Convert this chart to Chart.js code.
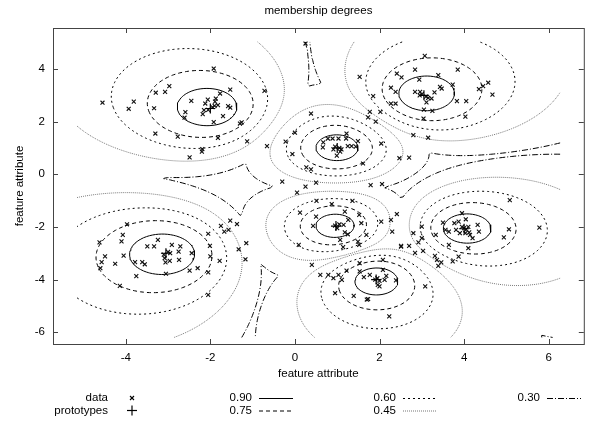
<!DOCTYPE html>
<html>
<head>
<meta charset="utf-8">
<script src="https://cdn.jsdelivr.net/npm/chart.js"></script>
<style>
  html, body { margin: 0; padding: 0; background: #fff; }
  #wrap { width: 590px; height: 422px; }
</style>
</head>
<body>
<div id="wrap"><canvas id="membershipChart"></canvas></div>
<script>
// prototypes (cluster centres)
var protoPoints = [[-2.0, 2.5], [3.05, 3.0], [1.0, 1.0], [-3.05, -3.0], [0.97, -1.97], [1.92, -4.0], [4.0, -2.07]];

// data points, grouped by cluster
var dataPoints = [
  // top left
  [-1.92,4.02],[-2.97,3.35],[-3.29,3.10],[-3.07,3.13],[-1.53,3.22],[-1.77,3.07],[-2.45,2.79],[-1.87,2.88],[-2.06,2.84],[-1.89,2.76],
  [-3.81,2.76],[-3.93,2.49],[-3.33,2.51],[-2.12,2.69],[-1.82,2.63],[-1.58,2.59],[-1.53,2.53],[-2.59,2.36],[-2.61,2.15],[-2.18,2.29],
  [-2.15,2.44],[-1.70,2.21],[-1.92,1.98],[-1.26,1.97],[-1.30,1.93],[-3.30,1.55],[-2.77,1.43],[-1.82,1.38],[-1.13,1.25],[-2.19,0.96],
  [-2.20,0.86],[-2.49,0.64],[-1.95,2.55],[-2.05,2.45],[-1.90,2.60],[-4.55,2.72],
  // top right
  [3.07,4.50],[1.53,3.70],[2.41,3.83],[2.52,3.68],[2.84,3.98],[3.85,3.98],[3.39,3.77],[2.94,3.60],[2.27,3.29],[2.38,3.13],
  [2.84,3.13],[2.96,3.13],[3.30,3.11],[3.43,3.32],[3.47,3.26],[3.73,3.41],[4.57,3.48],[4.45,3.35],[4.35,3.24],[4.67,3.03],
  [1.85,2.97],[2.27,2.69],[2.38,2.69],[3.11,2.73],[3.23,2.88],[3.83,2.78],[4.05,2.78],[3.05,2.46],[3.25,2.41],[1.77,2.37],
  [2.02,2.37],[1.73,2.16],[1.91,2.00],[3.04,2.12],[4.03,2.19],[2.80,1.49],[3.15,1.39],[3.00,3.05],[3.10,2.95],[2.95,3.00],[3.15,2.90],
  // centre top
  [0.38,2.31],[0.00,1.58],[-0.22,1.24],[1.22,1.55],[0.78,1.36],[0.89,1.36],[1.03,1.36],[1.21,1.36],[0.67,1.21],[1.49,1.26],
  [1.25,1.07],[1.34,1.07],[1.44,1.05],[0.66,1.02],[0.91,0.95],[1.07,0.86],[0.99,0.71],[-0.06,0.77],[1.61,0.41],[0.27,0.26],
  [0.38,0.19],[-0.30,-0.28],[0.25,-0.47],[0.50,-0.32],[0.05,-0.70],[1.79,-0.41],[2.06,-0.37],[-0.66,1.07],[1.05,1.00],[0.95,1.05],
  [1.10,0.95],[2.04,1.17],[2.47,0.61],[2.70,0.63],[0.25,4.97],[-0.72,3.17],
  // bottom left
  [-3.97,-1.90],[-4.07,-2.30],[-4.10,-2.55],[-4.62,-2.59],[-4.49,-3.12],[-4.57,-3.34],[-4.60,-3.57],[-4.25,-3.40],[-4.05,-3.09],[-4.14,-4.24],
  [-3.24,-2.49],[-3.49,-2.74],[-3.33,-2.74],[-2.91,-2.68],[-2.71,-2.74],[-2.75,-2.94],[-2.44,-3.00],[-3.78,-3.34],[-3.61,-3.34],[-3.55,-3.42],
  [-3.06,-3.35],[-2.96,-3.29],[-2.74,-3.25],[-3.08,-3.19],[-3.75,-3.87],[-3.05,-3.78],[-2.49,-3.66],[-2.30,-3.57],[-2.05,-3.73],[-2.01,-2.72],
  [-2.00,-3.12],[-1.78,-3.29],[-2.05,-2.26],[-2.05,-4.58],[-1.75,-1.96],[-1.67,-2.18],[-1.57,-2.11],[-1.53,-1.76],[-1.37,-1.89],[-1.33,-2.85],
  [-1.15,-2.62],[-1.17,-3.23],[-3.00,-2.95],[-2.95,-3.00],[-3.10,-3.05],
  // centre
  [0.51,-1.01],[0.87,-1.13],[1.36,-1.01],[0.12,-1.46],[0.50,-1.61],[1.18,-1.42],[1.52,-1.54],[0.43,-1.96],[1.15,-1.92],[1.26,-1.73],
  [1.57,-1.86],[2.04,-1.80],[2.27,-1.73],[2.30,-2.18],[1.18,-2.21],[1.25,-2.28],[1.07,-2.49],[1.69,-2.30],[1.49,-2.56],[1.52,-2.68],
  [0.09,-2.68],[1.14,-2.77],[2.51,-2.75],[0.95,-1.95],[1.00,-2.05],[1.05,-1.90],
  // bottom centre
  [0.40,-3.44],[0.60,-3.82],[0.79,-3.82],[1.03,-3.82],[0.91,-3.95],[1.11,-4.01],[1.22,-3.66],[1.53,-3.69],[1.63,-3.91],[1.77,-3.82],
  [2.08,-3.63],[2.16,-3.86],[2.12,-4.01],[1.96,-4.20],[2.00,-4.26],[0.95,-4.52],[1.39,-4.62],[1.73,-4.74],[1.70,-4.76],[2.23,-5.40],
  [1.53,-3.38],[2.08,-3.25],[1.95,-3.95],[2.00,-4.05],[1.90,-4.00],[2.39,-4.03],[3.08,-4.26],
  // right
  [5.08,-0.98],[5.78,-2.03],[5.06,-2.09],[4.94,-2.40],[2.41,-1.51],[3.95,-1.48],[4.04,-1.71],[3.50,-1.84],[3.77,-1.86],[3.87,-1.80],
  [4.32,-1.92],[3.00,-1.99],[3.56,-2.11],[3.64,-2.18],[3.81,-2.11],[3.90,-2.24],[4.03,-2.24],[4.12,-2.21],[4.14,-2.30],[4.35,-2.18],
  [4.20,-2.43],[3.33,-2.30],[2.80,-2.24],[3.00,-2.43],[2.92,-2.59],[3.64,-2.68],[4.10,-2.81],[3.87,-3.13],[3.73,-3.31],[2.70,-2.72],
  [2.51,-2.72],[2.84,-2.99],[3.03,-2.91],[3.31,-3.10],[3.36,-3.25],[3.46,-3.35],[3.39,-3.48],[4.00,-2.05],[4.05,-2.10],[3.95,-2.00],[4.10,-2.00]
];

// contour levels of the membership degree and their line styles
var levels = [0.90, 0.75, 0.60, 0.45, 0.30];
var levelDash = [[], [4, 3], [2, 3], [1, 1], [6, 2, 1, 2]];
var levelColor = ['#000', '#000', '#000', '#777', '#000'];

var fuzzifier = 2;
// area over which the membership grid was sampled
var gridX = [-5.15, 6.27];
var gridY = [-6.2, 5.03];

var xTicks = [-4, -2, 0, 2, 4, 6];
var yTicks = [-6, -4, -2, 0, 2, 4];

var FONT = '"Liberation Sans", Arial, sans-serif';

// fuzzy c-means membership, highest over all prototypes
function maxMembership(x, y) {
  var inv = [], sum = 0;
  protoPoints.forEach(function (p) {
    var d2 = (x - p[0]) * (x - p[0]) + (y - p[1]) * (y - p[1]);
    var w = Math.pow(Math.max(d2, 1e-12), -1 / (fuzzifier - 1));
    inv.push(w); sum += w;
  });
  return Math.max.apply(null, inv) / sum;
}

var N = 160;
var gxs = [], gys = [], grid = [];
for (var i = 0; i <= N; i++) {
  gxs.push(gridX[0] + (gridX[1] - gridX[0]) * i / N);
  gys.push(gridY[0] + (gridY[1] - gridY[0]) * i / N);
}
for (var i = 0; i <= N; i++) {
  grid.push([]);
  for (var j = 0; j <= N; j++) grid[i].push(maxMembership(gxs[i], gys[j]));
}

// marching squares, segments chained into polylines
function isoLines(level) {
  var pts = {}, adj = {};
  function cut(key, xa, ya, va, xb, yb, vb) {
    if (!pts[key]) {
      var t = (level - va) / (vb - va);
      pts[key] = { x: xa + t * (xb - xa), y: ya + t * (yb - ya) };
    }
    return key;
  }
  function link(a, b) {
    (adj[a] = adj[a] || []).push(b);
    (adj[b] = adj[b] || []).push(a);
  }
  for (var i = 0; i < N; i++) {
    for (var j = 0; j < N; j++) {
      var v0 = grid[i][j], v1 = grid[i + 1][j], v2 = grid[i + 1][j + 1], v3 = grid[i][j + 1];
      var b = (v0 > level) !== (v1 > level) ? cut('h' + i + '_' + j, gxs[i], gys[j], v0, gxs[i + 1], gys[j], v1) : null;
      var r = (v1 > level) !== (v2 > level) ? cut('v' + (i + 1) + '_' + j, gxs[i + 1], gys[j], v1, gxs[i + 1], gys[j + 1], v2) : null;
      var t = (v3 > level) !== (v2 > level) ? cut('h' + i + '_' + (j + 1), gxs[i], gys[j + 1], v3, gxs[i + 1], gys[j + 1], v2) : null;
      var l = (v0 > level) !== (v3 > level) ? cut('v' + i + '_' + j, gxs[i], gys[j], v0, gxs[i], gys[j + 1], v3) : null;
      var e = [b, r, t, l].filter(function (k) { return k !== null; });
      if (e.length === 2) link(e[0], e[1]);
      else if (e.length === 4) {
        var c = (v0 + v1 + v2 + v3) / 4;
        if ((c > level) === (v0 > level)) { link(b, r); link(t, l); }
        else { link(b, l); link(t, r); }
      }
    }
  }
  var used = {}, lines = [];
  function walk(start) {
    var line = [start], cur = start;
    used[start] = true;
    for (;;) {
      var nxt = adj[cur].filter(function (k) { return !used[k]; })[0];
      if (!nxt) break;
      used[nxt] = true; line.push(nxt); cur = nxt;
    }
    return line;
  }
  var keys = Object.keys(adj);
  keys.forEach(function (k) { if (adj[k].length === 1 && !used[k]) lines.push(walk(k)); });
  keys.forEach(function (k) {
    if (!used[k]) { var ln = walk(k); ln.push(ln[0]); lines.push(ln); }
  });
  var out = [];
  lines.forEach(function (ln) {
    ln.forEach(function (k) { out.push(pts[k]); });
    out.push({ x: NaN, y: NaN });
  });
  return out;
}

var datasets = [
  {
    label: 'prototypes',
    data: protoPoints.map(function (p) { return { x: p[0], y: p[1] }; }),
    pointStyle: 'cross', pointRadius: 5, pointBorderWidth: 1.2,
    borderColor: '#000', backgroundColor: '#000', showLine: false
  },
  {
    label: 'data',
    data: dataPoints.map(function (p) { return { x: p[0], y: p[1] }; }),
    pointStyle: 'crossRot', pointRadius: 2.8, pointBorderWidth: 1.1,
    borderColor: '#111', backgroundColor: '#111', showLine: false
  }
];
levels.forEach(function (lv, k) {
  datasets.push({
    label: lv.toFixed(2),
    data: isoLines(lv),
    showLine: true, spanGaps: false,
    pointRadius: 0, borderWidth: 1,
    borderColor: levelColor[k], borderDash: levelDash[k]
  });
});

function line(ctx, x1, y1, x2, y2) {
  ctx.beginPath(); ctx.moveTo(x1, y1); ctx.lineTo(x2, y2); ctx.stroke();
}

var decorations = {
  id: 'decorations',
  afterDraw: function (chart) {
    var ctx = chart.ctx, a = chart.chartArea, xs = chart.scales.x, ys = chart.scales.y;
    ctx.save();
    // frame and inward ticks
    ctx.strokeStyle = '#444';
    ctx.lineWidth = 1;
    ctx.strokeRect(a.left + 0.5, a.top + 0.5, a.right - a.left, a.bottom - a.top);
    xTicks.forEach(function (v) {
      var px = Math.round(xs.getPixelForValue(v)) + 0.5;
      line(ctx, px, a.bottom, px, a.bottom - 5);
      line(ctx, px, a.top, px, a.top + 5);
    });
    yTicks.forEach(function (v) {
      var py = Math.round(ys.getPixelForValue(v)) + 0.5;
      line(ctx, a.left, py, a.left + 5, py);
      line(ctx, a.right, py, a.right - 5, py);
    });

    ctx.fillStyle = '#000';
    ctx.font = '11.5px ' + FONT;
    ctx.textAlign = 'center';
    ctx.textBaseline = 'middle';
    var cx = (a.left + a.right) / 2;
    ctx.fillText('membership degrees', cx, 11);
    ctx.fillText('feature attribute', cx, 374);
    ctx.save();
    ctx.translate(20, (a.top + a.bottom) / 2);
    ctx.rotate(-Math.PI / 2);
    ctx.fillText('feature attribute', 0, 0);
    ctx.restore();

    // legend in four columns
    var colRight = [108, 252, 396, 540], rowY = [398, 410.5];
    var items = [{ label: 'data', kind: 'data', col: 0, row: 0 }, { label: 'prototypes', kind: 'proto', col: 0, row: 1 }];
    levels.forEach(function (lv, k) {
      items.push({ label: lv.toFixed(2), kind: 'line', k: k, col: 1 + Math.floor(k / 2), row: k % 2 });
    });
    items.forEach(function (it) {
      var tx = colRight[it.col], ty = rowY[it.row];
      ctx.textAlign = 'right';
      ctx.fillStyle = '#000';
      ctx.fillText(it.label, tx, ty);
      var s0 = tx + 7, s1 = tx + 41, sm = (s0 + s1) / 2;
      ctx.setLineDash([]);
      ctx.strokeStyle = '#000';
      if (it.kind === 'data') {
        ctx.lineWidth = 1.1;
        line(ctx, sm - 2, ty - 2, sm + 2, ty + 2);
        line(ctx, sm - 2, ty + 2, sm + 2, ty - 2);
      } else if (it.kind === 'proto') {
        ctx.lineWidth = 1.2;
        line(ctx, sm - 5, ty, sm + 5, ty);
        line(ctx, sm, ty - 5, sm, ty + 5);
      } else {
        ctx.lineWidth = 1;
        ctx.strokeStyle = levelColor[it.k];
        ctx.setLineDash(levelDash[it.k]);
        line(ctx, s0, ty + 0.5, s1, ty + 0.5);
      }
    });
    ctx.restore();
  }
};

new Chart(document.getElementById('membershipChart'), {
  type: 'scatter',
  data: { datasets: datasets },
  options: {
    responsive: true,
    maintainAspectRatio: false,
    animation: false,
    layout: { padding: { left: 0, right: 0, top: 28, bottom: 0 } },
    scales: {
      x: {
        type: 'linear', min: -5.72, max: 6.83,
        afterBuildTicks: function (s) { s.ticks = xTicks.map(function (v) { return { value: v }; }); },
        afterFit: function (s) { s.height = 78; },
        grid: { display: false, drawTicks: false },
        border: { display: false },
        ticks: { color: '#000', padding: 7, font: { family: FONT, size: 11.5 }, maxRotation: 0 }
      },
      y: {
        type: 'linear', min: -6.45, max: 5.56,
        afterBuildTicks: function (s) { s.ticks = yTicks.map(function (v) { return { value: v }; }); },
        afterFit: function (s) { s.width = 53; },
        grid: { display: false, drawTicks: false },
        border: { display: false },
        ticks: { color: '#000', padding: 8, font: { family: FONT, size: 11.5 } }
      }
    },
    plugins: {
      legend: { display: false },
      title: { display: false },
      tooltip: { enabled: false }
    }
  },
  plugins: [decorations]
});
</script>
</body>
</html>
